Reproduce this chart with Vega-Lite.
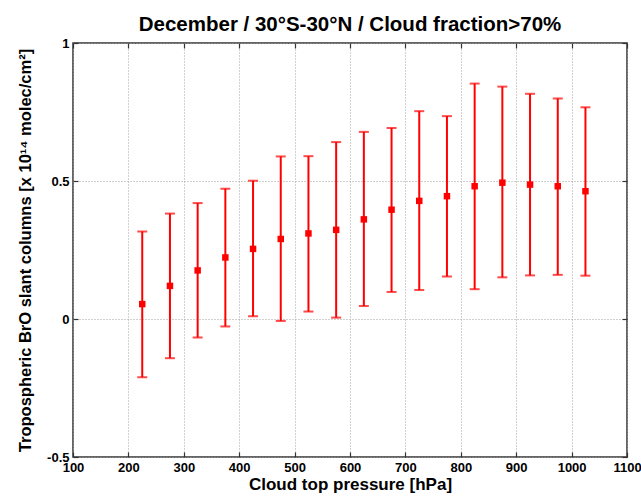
{
  "$schema": "https://vega.github.io/schema/vega-lite/v6.json",
  "width": 554,
  "height": 414,
  "autosize": "none",
  "padding": {"left": 73, "top": 43, "right": 14, "bottom": 43},
  "background": "white",
  "config": {
    "view": {"stroke": "#333333", "strokeWidth": 1.5},
    "font": "Liberation Sans"
  },
  "title": {
    "text": "December / 30°S-30°N / Cloud fraction>70%",
    "fontSize": 20.5,
    "fontWeight": "bold",
    "font": "Liberation Sans",
    "color": "black",
    "anchor": "middle",
    "baseline": "alphabetic",
    "offset": -14
  },
  "data": {
    "values": [
      {"p": 225, "mean": 0.054, "lo": -0.211, "hi": 0.317},
      {"p": 275, "mean": 0.120, "lo": -0.142, "hi": 0.382},
      {"p": 325, "mean": 0.176, "lo": -0.067, "hi": 0.420},
      {"p": 375, "mean": 0.223, "lo": -0.027, "hi": 0.472},
      {"p": 425, "mean": 0.254, "lo": 0.010, "hi": 0.501},
      {"p": 475, "mean": 0.290, "lo": -0.007, "hi": 0.589},
      {"p": 525, "mean": 0.310, "lo": 0.027, "hi": 0.590},
      {"p": 575, "mean": 0.323, "lo": 0.005, "hi": 0.641},
      {"p": 625, "mean": 0.361, "lo": 0.047, "hi": 0.678},
      {"p": 675, "mean": 0.396, "lo": 0.098, "hi": 0.692},
      {"p": 725, "mean": 0.428, "lo": 0.105, "hi": 0.753},
      {"p": 775, "mean": 0.445, "lo": 0.154, "hi": 0.735},
      {"p": 825, "mean": 0.481, "lo": 0.108, "hi": 0.853},
      {"p": 875, "mean": 0.494, "lo": 0.151, "hi": 0.842},
      {"p": 925, "mean": 0.487, "lo": 0.158, "hi": 0.816},
      {"p": 975, "mean": 0.481, "lo": 0.160, "hi": 0.799},
      {"p": 1025, "mean": 0.463, "lo": 0.157, "hi": 0.767}
    ]
  },
  "resolve": {"axis": {"x": "independent", "y": "independent"}},
  "layer": [
    {
      "mark": {"type": "rule", "color": "#ff0000", "strokeWidth": 2},
      "encoding": {
        "x": {
          "field": "p", "type": "quantitative",
          "scale": {"domain": [100, 1100], "nice": false, "zero": false},
          "axis": {
            "orient": "bottom",
            "values": [100, 200, 300, 400, 500, 600, 700, 800, 900, 1000, 1100],
            "format": "d",
            "ticks": false,
            "domain": false,
            "labelFont": "Liberation Sans", "labelFontWeight": "bold", "labelFontSize": 13, "labelColor": "black",
            "labelPadding": 4,
            "labelFlush": false,
            "grid": true, "gridColor": "#a0a0a0", "gridDash": [1, 2], "gridWidth": 1,
            "title": "Cloud top pressure [hPa]",
            "titleFont": "Liberation Sans", "titleFontWeight": "bold", "titleFontSize": 17, "titleColor": "black",
            "titleX": 277, "titleY": 27, "titleBaseline": "middle", "titleAlign": "center"
          }
        },
        "y": {
          "field": "lo", "type": "quantitative",
          "scale": {"domain": [-0.5, 1], "nice": false, "zero": false},
          "axis": {
            "orient": "left",
            "values": [-0.5, 0, 0.5, 1],
            "labelExpr": "toString(datum.value)",
            "ticks": false,
            "domain": false,
            "labelFont": "Liberation Sans", "labelFontWeight": "bold", "labelFontSize": 13, "labelColor": "black",
            "labelPadding": 4,
            "labelFlush": false,
            "grid": true, "gridColor": "#a0a0a0", "gridDash": [1, 2], "gridWidth": 1,
            "title": "Tropospheric BrO slant columns [x 10¹⁴ molec/cm²]",
            "titleFont": "Liberation Sans", "titleFontWeight": "bold", "titleFontSize": 16.5, "titleColor": "black",
            "titleX": -48, "titleY": 207, "titleAngle": -90, "titleBaseline": "middle", "titleAlign": "center"
          }
        },
        "y2": {"field": "hi"}
      }
    },
    {
      "mark": {"type": "tick", "orient": "horizontal", "color": "#ff0000", "thickness": 2, "size": 10},
      "encoding": {
        "x": {
          "field": "p", "type": "quantitative",
          "axis": {
            "orient": "bottom",
            "values": [100, 200, 300, 400, 500, 600, 700, 800, 900, 1000, 1100],
            "labels": false, "grid": false, "domain": false, "title": null,
            "ticks": true, "tickSize": -5, "tickColor": "#333333", "tickWidth": 1.2
          }
        },
        "y": {
          "field": "hi", "type": "quantitative",
          "axis": {
            "orient": "left",
            "values": [-0.5, 0, 0.5, 1],
            "labels": false, "grid": false, "domain": false, "title": null,
            "ticks": true, "tickSize": -5, "tickColor": "#333333", "tickWidth": 1.2
          }
        }
      }
    },
    {
      "mark": {"type": "tick", "orient": "horizontal", "color": "#ff0000", "thickness": 2, "size": 10},
      "encoding": {
        "x": {
          "field": "p", "type": "quantitative",
          "axis": {
            "orient": "top",
            "values": [100, 200, 300, 400, 500, 600, 700, 800, 900, 1000, 1100],
            "labels": false, "grid": false, "domain": false, "title": null,
            "ticks": true, "tickSize": -5, "tickColor": "#333333", "tickWidth": 1.2
          }
        },
        "y": {
          "field": "lo", "type": "quantitative",
          "axis": {
            "orient": "right",
            "values": [-0.5, 0, 0.5, 1],
            "labels": false, "grid": false, "domain": false, "title": null,
            "ticks": true, "tickSize": -5, "tickColor": "#333333", "tickWidth": 1.2
          }
        }
      }
    },
    {
      "mark": {"type": "point", "shape": "square", "filled": true, "color": "#ff0000", "opacity": 1, "size": 42},
      "encoding": {
        "x": {"field": "p", "type": "quantitative", "axis": null},
        "y": {"field": "mean", "type": "quantitative", "axis": null}
      }
    }
  ]
}
